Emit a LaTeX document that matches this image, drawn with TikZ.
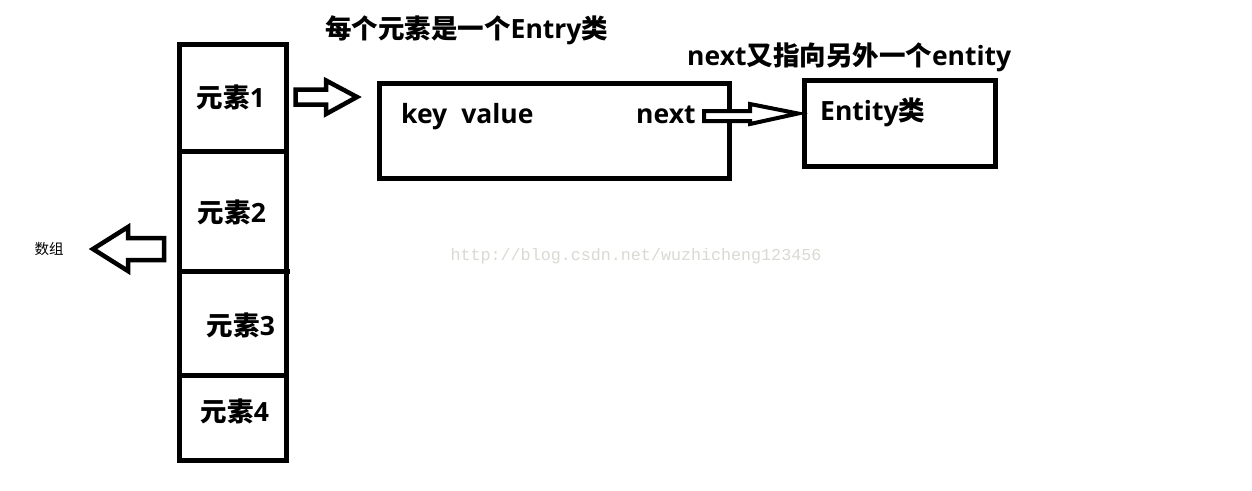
\documentclass[tikz,border=0pt]{standalone}
\usepackage{fontspec}
\setmainfont{Open Sans}
\newfontfamily\cj{Noto Sans CJK SC}
\newfontfamily\wm{Liberation Mono}
\definecolor{wmgray}{RGB}{218,218,212}
\tikzset{
  thick box/.style={draw=black, line width=5pt, fill=none},
  fat arrow/.style={draw=black, line width=4.5pt, line join=miter, fill=white},
  big label/.style={inner sep=0pt, font=\fontsize{26.5}{30}\selectfont\bfseries},
}
\begin{document}
\begin{tikzpicture}[x=1pt,y=-1pt]
\useasboundingbox (0,0) rectangle (1252,490);
\fill[white] (0,0) rectangle (1252,490);

% array column
\draw[thick box] (179,44) rectangle (286,460);
\coordinate (d1l) at (179,151); \coordinate (d1r) at (286,151);
\coordinate (d2l) at (179,271); \coordinate (d2r) at (290,271);
\coordinate (d3l) at (179,375); \coordinate (d3r) at (286,375);
\draw[line width=5pt] (d1l) -- (d1r);
\draw[line width=5pt] (d2l) -- (d2r);
\draw[line width=5pt] (d3l) -- (d3r);

\node[big label] (e1) at (231,97) {{\cj\bfseries 元素}1};
\node[big label] (e2) at (232,212) {{\cj\bfseries 元素}2};
\node[big label] (e3) at (241,325) {{\cj\bfseries 元素}3};
\node[big label] (e4) at (235,411) {{\cj\bfseries 元素}4};

% entry box
\draw[thick box] (379.5,83.5) rectangle (729,178);
\node[big label, anchor=base west] (kv) at (401,123) {key\hspace{14pt}value};
\node[big label, anchor=base west] (nx) at (636,123) {next};

% entity box
\draw[thick box] (804,80.5) rectangle (995,166.5);
\node[big label, anchor=base west] (ent) at (820,120) {Entity{\cj\bfseries 类}};

% titles
\node[big label, anchor=base west] (t1) at (325,38) {{\cj\bfseries 每个元素是一个}Entry{\cj\bfseries 类}};
\node[big label, anchor=base west] (t2) at (687,65) {next{\cj\bfseries 又指向另外一个}entity};

% arrow from element 1 to entry
\draw[fat arrow] (295.5,89.5) -- (326,89.5) -- (326,80.5) -- (357,97) -- (326,114) -- (326,104.5) -- (295.5,104.5) -- cycle;

% arrow from next to entity
\draw[fat arrow, line width=4pt] (704,111) -- (750,111) -- (750,104) -- (798,113.5) -- (750,124) -- (750,121) -- (704,121) -- cycle;

% left arrow to 数组
\draw[fat arrow] (164,238) -- (128,238) -- (128,227) -- (93,249) -- (128,271) -- (128,260) -- (164,260) -- cycle;
\node[inner sep=0pt, font=\fontsize{14.5}{16}\selectfont] (arr) at (49,249) {\cj 数组};

% watermark
\node[inner sep=0pt, text=wmgray, font=\wm\fontsize{16.7}{18}\selectfont] (wmk) at (636,256) {http://blog.csdn.net/wuzhicheng123456};
\end{tikzpicture}
\end{document}
